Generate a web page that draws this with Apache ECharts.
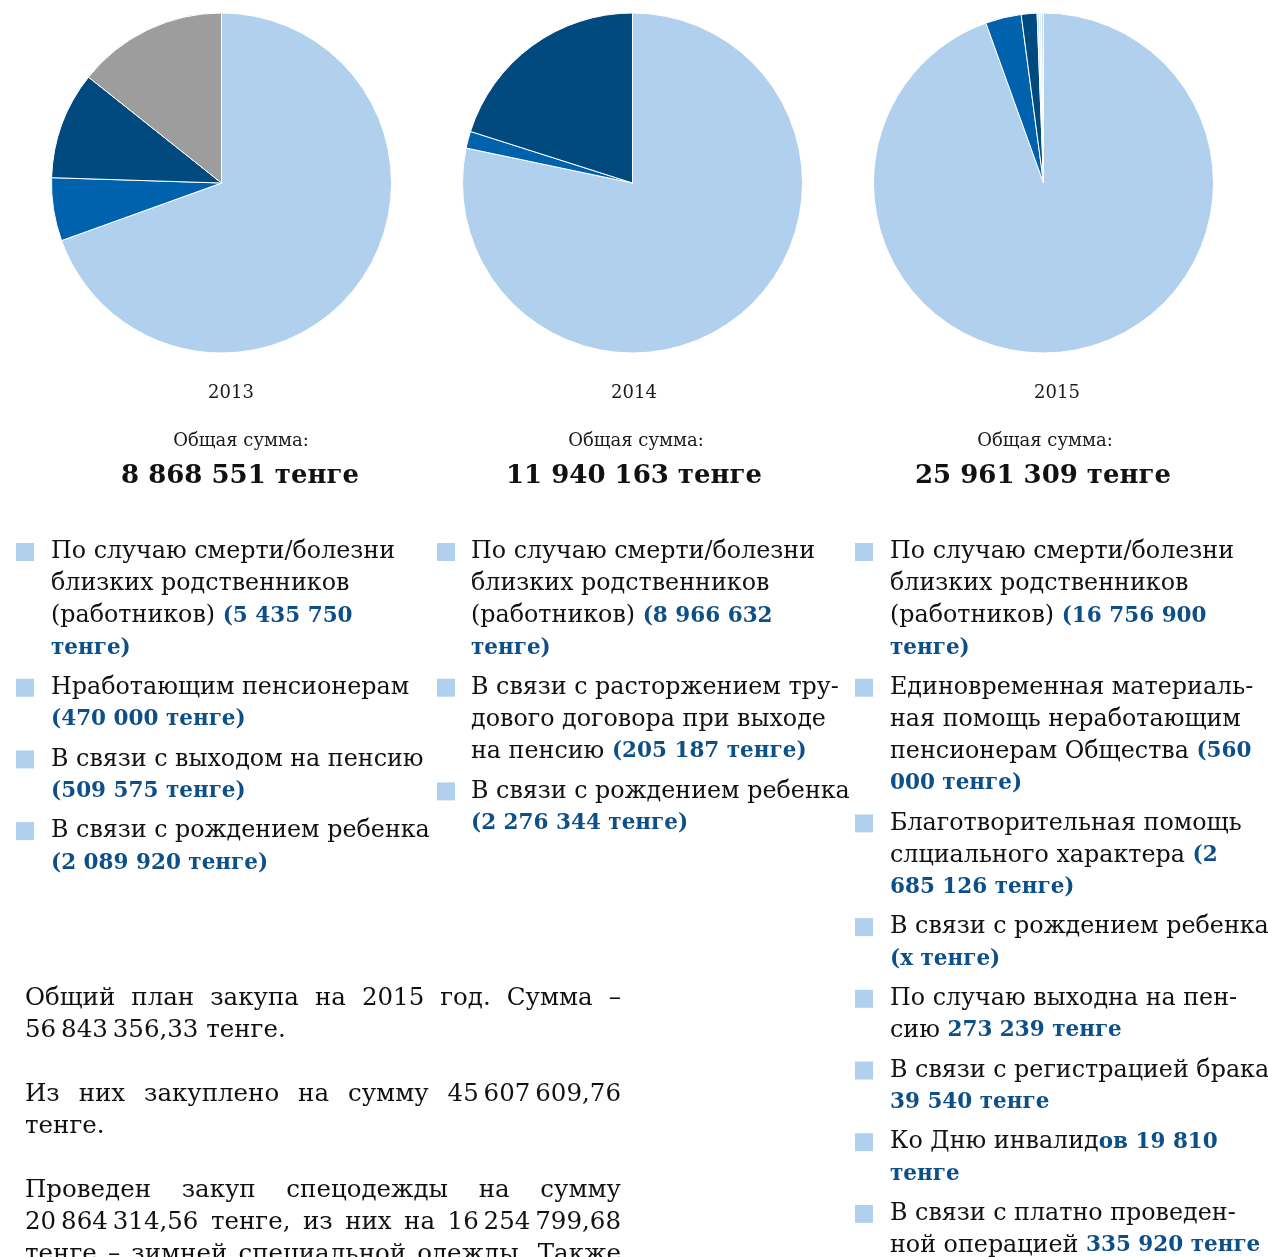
<!DOCTYPE html>
<html><head><meta charset="utf-8">
<script src="https://cdn.jsdelivr.net/npm/echarts@6/dist/echarts.min.js"></script>
<style>
html,body{margin:0;padding:0;background:#fff;overflow:hidden;width:1268px;height:1257px}
#chart{position:absolute;left:0;top:0;width:1268px;height:1257px}
#para{position:absolute;left:25px;top:981px;width:596px;font-family:"DejaVu Serif";font-size:24.5px;line-height:32px;color:#111}
#para div{height:32px;white-space:nowrap}
#para .j{text-align:justify;text-align-last:justify;white-space:normal}
</style></head>
<body>
<div id="chart"></div>
<div id="para"></div>
<script>
// ---- data ----
const years = ['2013', '2014', '2015'];
const totalLabel = 'Общая сумма:';
const totals = ['8 868 551 тенге', '11 940 163 тенге', '25 961 309 тенге'];
// slice shares (% of pie), clockwise from 12 o'clock
const share2013 = [69.5, 6.0, 10.2, 14.3];
const share2014 = [78.3, 1.6, 20.1];
const share2015 = [94.5, 3.4, 1.5, 0.2, 0.2, 0.2];
// legend items (lines separated by \n, *...* = highlighted amount)
const legend2013 = [
  'По случаю смерти/болезни\nблизких родственников\n(работников) *(5 435 750*\n*тенге)*',
  'Нработающим пенсионерам\n*(470 000 тенге)*',
  'В связи с выходом на пенсию\n*(509 575 тенге)*',
  'В связи с рождением ребенка\n*(2 089 920 тенге)*'
];
const legend2014 = [
  'По случаю смерти/болезни\nблизких родственников\n(работников) *(8 966 632*\n*тенге)*',
  'В связи с расторжением тру-\nдового договора при выходе\nна пенсию *(205 187 тенге)*',
  'В связи с рождением ребенка\n*(2 276 344 тенге)*'
];
const legend2015 = [
  'По случаю смерти/болезни\nблизких родственников\n(работников) *(16 756 900*\n*тенге)*',
  'Единовременная материаль-\nная помощь неработающим\nпенсионерам Общества *(560*\n*000 тенге)*',
  'Благотворительная помощь\nслциального характера *(2*\n*685 126 тенге)*',
  'В связи с рождением ребенка\n*(х тенге)*',
  'По случаю выходна на пен-\nсию *273 239 тенге*',
  'В связи с регистрацией брака\n*39 540 тенге*',
  'Ко Дню инвалид*ов 19 810*\n*тенге*',
  'В связи с платно проведен-\nной операцией *335 920 тенге*'
];
// paragraph lines ('' = blank line); j = justified
const paraLines = [
  ['Общий план закупа на 2015 год. Сумма –', true],
  ['56\u2009843\u2009356,33 тенге.', false],
  ['', false],
  ['Из них закуплено на сумму 45\u2009607\u2009609,76', true],
  ['тенге.', false],
  ['', false],
  ['Проведен закуп спецодежды на сумму', true],
  ['20\u2009864\u2009314,56 тенге, из них на 16\u2009254\u2009799,68', true],
  ['тенге – зимней специальной одежды. Также', true]
];

// ---- styles ----
const palettes = [
  ['#b0d0ee', '#0062ad', '#004a80', '#9d9d9d'],
  ['#b0d0ee', '#0062ad', '#004a80'],
  ['#b0d0ee', '#0062ad', '#004a80', '#c4dcf3', '#d9e8f7', '#c4dcf3']
];
const shares = [share2013, share2014, share2015];
const legends = [legend2013, legend2014, legend2015];
const pieCx = [221.5, 632.5, 1043.5];
const yearX = [231, 634, 1057];
const sumX = [241, 636, 1045];
const totX = [240, 634, 1043];
const markerX = [16, 437, 855];
const textX = [51, 471, 890];
const FONT = '"DejaVu Serif"';

const chart = echarts.init(document.getElementById('chart'), null, {renderer: 'canvas'});

const series = shares.map((arr, i) => ({
  type: 'pie',
  center: [pieCx[i], 183],
  radius: [0, 170],
  startAngle: 90,
  clockwise: true,
  silent: true,
  label: {show: false},
  labelLine: {show: false},
  emphasis: {disabled: true},
  itemStyle: {borderColor: '#ffffff', borderWidth: 1},
  data: arr.map((v, k) => ({value: v, itemStyle: {color: palettes[i][k]}}))
}));

const graphics = [];
years.forEach((y, i) => {
  graphics.push({type: 'text', x: yearX[i], y: 393, silent: true,
    style: {text: y, align: 'center', verticalAlign: 'middle', font: '18px ' + FONT, fill: '#1a1a1a'}});
  graphics.push({type: 'text', x: sumX[i], y: 441, silent: true,
    style: {text: totalLabel, align: 'center', verticalAlign: 'middle', font: '18px ' + FONT, fill: '#1a1a1a'}});
  graphics.push({type: 'text', x: totX[i], y: 476, silent: true,
    style: {text: totals[i], align: 'center', verticalAlign: 'middle', font: 'bold 26px ' + FONT, fill: '#111111'}});
});

const LH = 32, GAP = 7.7;
legends.forEach((items, c) => {
  let yc = 552;
  items.forEach(item => {
    const lines = item.split('\n');
    const rich = lines.map(line => {
      const parts = line.split('*');
      return parts.map((p, k) => p === '' ? '' : (k % 2 ? '{b|' + p + '}' : '{n|' + p + '}')).join('');
    }).join('\n');
    graphics.push({type: 'rect', silent: true,
      shape: {x: markerX[c], y: yc - 9, width: 18, height: 18},
      style: {fill: '#b0d0ee'}});
    graphics.push({type: 'text', x: textX[c], y: yc - LH / 2, silent: true,
      style: {text: rich, align: 'left', verticalAlign: 'top',
        rich: {
          n: {font: '23.8px ' + FONT, fill: '#111111', lineHeight: LH},
          b: {font: 'bold 21.5px ' + FONT, fill: '#0d4f88', lineHeight: LH}
        }}});
    yc += lines.length * LH + GAP;
  });
});

chart.setOption({
  animation: false,
  backgroundColor: '#ffffff',
  series: series,
  graphic: graphics
});

const para = document.getElementById('para');
paraLines.forEach(([t, j]) => {
  const d = document.createElement('div');
  if (j) d.className = 'j';
  d.textContent = t;
  para.appendChild(d);
});
</script>
</body></html>
